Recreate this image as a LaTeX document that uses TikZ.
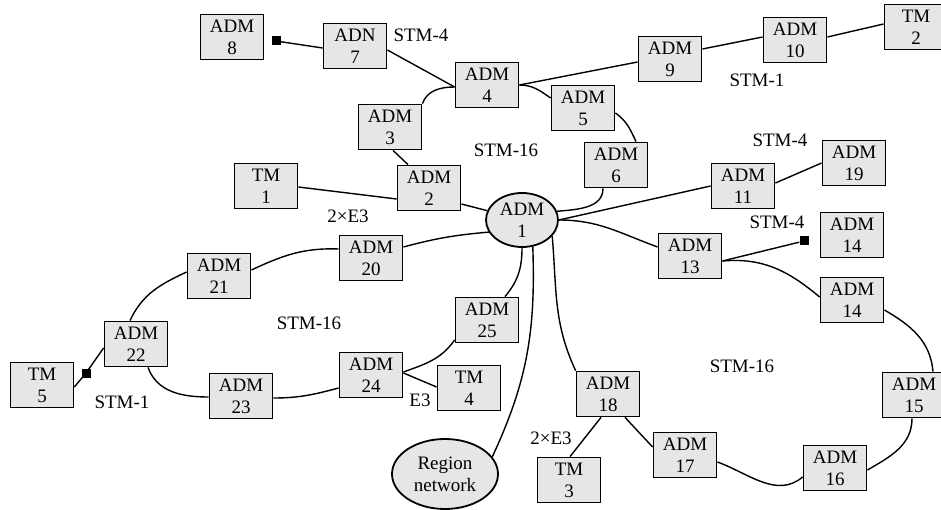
\documentclass[tikz,border=0pt]{standalone}
\usepackage{fontspec}
\setmainfont{Liberation Serif}
\usetikzlibrary{shapes.geometric}
\definecolor{boxgray}{RGB}{230,230,230}
\tikzset{
  unit/.style={draw, line width=1.8pt, fill=boxgray, minimum width=63pt, minimum height=45pt,
    inner sep=0pt, align=center, font=\fontsize{19}{22}\selectfont},
  oval/.style={draw, line width=1.8pt, fill=boxgray, ellipse, inner sep=0pt, align=center,
    font=\fontsize{19}{22}\selectfont},
  blk/.style={fill=black, minimum size=9pt, inner sep=0pt},
  lbl/.style={inner sep=0pt, font=\fontsize{19}{22}\selectfont},
  link/.style={line width=1.4pt}
}
\begin{document}
\begin{tikzpicture}[x=1pt,y=1pt]
\useasboundingbox (0,0) rectangle (941,-510);
% nodes
\node[unit] (a8) at (232,-37) {ADM\\8};
\node[blk] (sq8) at (276,-41) {};
\node[unit] (a7) at (355,-46) {ADN\\7};
\node[unit] (a4) at (487,-85) {ADM\\4};
\node[unit] (a3) at (390,-127) {ADM\\3};
\node[unit] (a2) at (429,-188) {ADM\\2};
\node[unit] (tm1) at (266,-186) {TM\\1};
\node[oval, minimum width=72pt, minimum height=54pt] (a1) at (522,-220) {ADM\\1};
\node[unit] (a20) at (371,-258) {ADM\\20};
\node[unit] (a21) at (219,-276) {ADM\\21};
\node[unit] (a22) at (136,-344) {ADM\\22};
\node[unit] (tm5) at (42,-385) {TM\\5};
\node[blk] (sq5) at (86,-373) {};
\node[unit] (a23) at (241,-396) {ADM\\23};
\node[unit] (a24) at (371,-375) {ADM\\24};
\node[unit] (a25) at (487,-320) {ADM\\25};
\node[unit] (tm4) at (469,-388) {TM\\4};
\node[oval, minimum width=106pt, minimum height=70pt] (rn) at (445,-474) {Region\\network};
\node[unit] (tm3) at (569,-480) {TM\\3};
\node[unit] (a18) at (608,-394) {ADM\\18};
\node[unit] (a17) at (685,-455) {ADM\\17};
\node[unit] (a16) at (835,-468) {ADM\\16};
\node[unit] (a15) at (914,-395) {ADM\\15};
\node[unit] (a14b) at (852,-300) {ADM\\14};
\node[unit] (a14a) at (852,-235) {ADM\\14};
\node[blk] (sq13) at (804,-241) {};
\node[unit] (a13) at (690,-256) {ADM\\13};
\node[unit] (a11) at (743,-186) {ADM\\11};
\node[unit] (a19) at (854,-163) {ADM\\19};
\node[unit] (a6) at (616,-165) {ADM\\6};
\node[unit] (a5) at (583,-108) {ADM\\5};
\node[unit] (a9) at (670,-59) {ADM\\9};
\node[unit] (a10) at (795,-40) {ADM\\10};
\node[unit] (tm2) at (916,-27) {TM\\2};
% labels
\node[lbl] (l1) at (421,-35) {STM-4};
\node[lbl] (l2) at (757,-80) {STM-1};
\node[lbl] (l3) at (506,-150) {STM-16};
\node[lbl] (l4) at (780,-140) {STM-4};
\node[lbl] (l5) at (777,-222) {STM-4};
\node[lbl] (l6) at (348,-216) {2×E3};
\node[lbl] (l7) at (309,-323) {STM-16};
\node[lbl] (l8) at (742,-366) {STM-16};
\node[lbl] (l9) at (122,-402) {STM-1};
\node[lbl] (l10) at (420,-400) {E3};
\node[lbl] (l11) at (551,-438) {2×E3};
% links
\begin{scope}[link]
\draw (sq8) -- ([yshift=-2pt]a7.west);
\draw ([yshift=-4pt]a7.east) -- ([yshift=-2pt]a4.west);
\draw (a3.north east) to[out=70,in=180] ([yshift=-2pt]a4.west);
\draw (a4.east) -- ([yshift=-3pt]a9.west);
\draw (a4.east) to[out=0,in=145] ([yshift=10pt]a5.west);
\draw ([yshift=-5pt]a5.east) to[out=-35,in=115] ([xshift=20pt]a6.north);
\draw ([yshift=10pt]a9.east) -- ([yshift=3pt]a10.west);
\draw ([yshift=3pt]a10.east) -- ([yshift=3pt]tm2.west);
\draw ([xshift=3pt]a3.south) -- ([xshift=-21pt]a2.north);
\draw ([yshift=-1pt]tm1.east) -- ([yshift=-11pt]a2.west);
\draw ([yshift=-16pt]a2.east) -- (a1.165);
\draw ([xshift=-13pt]a6.south) to[out=-90,in=5] (a1.14);
\draw (a1.east) -- (a11.west);
\draw ([yshift=3pt]a11.east) -- (a19.west);
\draw (a1.east) to[out=0,in=160] ([yshift=9pt]a13.west);
\draw ([yshift=-5pt]a13.east) -- (sq13);
\draw ([yshift=-5pt]a13.east) to[out=5,in=140] ([yshift=3pt]a14b.west);
\draw ([yshift=-10pt]a14b.east) to[out=-30,in=95] ([xshift=19pt]a15.north);
\draw ([xshift=-2pt]a15.south) to[out=-90,in=30] ([yshift=-2pt]a16.east);
\draw ([yshift=-7pt]a17.east) to[out=-20,in=-140] ([yshift=-9pt]a16.west);
\draw ([xshift=17pt]a18.south) -- ([yshift=8pt]a17.west);
\draw ([xshift=-7pt]a18.south) -- ([xshift=1pt]tm3.north);
\draw (a1.-28) to[out=-85,in=115] (a18.north west);
\draw (a1.-68) to[out=-88,in=65] (rn.20);
\draw (a1.south) to[out=-90,in=50] ([xshift=18pt]a25.north);
\draw (a1.200) to[out=185,in=15] ([yshift=11pt]a20.east);
\draw ([yshift=9pt]a20.west) to[out=178,in=25] ([yshift=6pt]a21.east);
\draw ([yshift=4pt]a21.west) to[out=205,in=65] ([xshift=-6pt]a22.north);
\draw ([yshift=-4pt]a22.west) -- (sq5.center) -- ([yshift=-2pt]tm5.east);
\draw ([xshift=12pt]a22.south) to[out=-70,in=180] ([yshift=-1pt]a23.west);
\draw ([yshift=-2pt]a23.east) to[out=0,in=195] ([yshift=-13pt]a24.west);
\draw ([yshift=3pt]a24.east) to[out=20,in=-125] ([yshift=-20pt]a25.west);
\draw ([yshift=2pt]a24.east) -- ([yshift=1pt]tm4.west);
\end{scope}
\end{tikzpicture}
\end{document}
